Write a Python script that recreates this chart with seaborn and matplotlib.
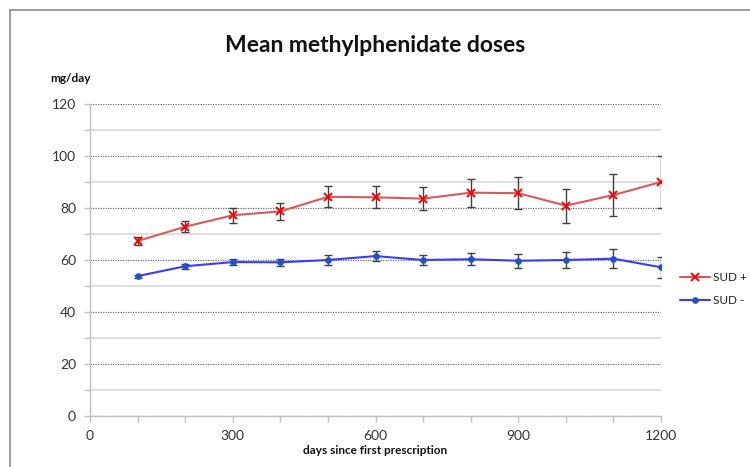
import matplotlib
matplotlib.use("Agg")
import matplotlib.pyplot as plt
import matplotlib.patches as mpatches
from matplotlib.ticker import MultipleLocator
import seaborn as sns
import pandas as pd

days = [100, 200, 300, 400, 500, 600, 700, 800, 900, 1000, 1100, 1200]
sud_pos = [67.3, 72.8, 77.2, 78.7, 84.3, 84.1, 83.6, 85.9, 85.7, 80.9, 85.0, 90.0]
sud_pos_err = [1.6, 2.2, 2.8, 3.2, 4.0, 4.2, 4.5, 5.4, 6.2, 6.5, 8.0, 10.0]
sud_neg = [53.8, 57.6, 59.2, 59.1, 60.0, 61.5, 60.0, 60.3, 59.7, 60.0, 60.5, 57.2]
sud_neg_err = [0.6, 1.0, 1.2, 1.4, 1.8, 2.0, 1.8, 2.2, 2.6, 3.2, 3.7, 4.1]
series_names = ["SUD +", "SUD -"]

sns.set_theme(style="white")
plt.rcParams["font.family"] = ["Lato", "DejaVu Sans"]

fig = plt.figure(figsize=(7.5, 4.67), dpi=100)
fig.patches.append(mpatches.Rectangle((10 / 750, -0.1), 1.1, 1 - 10 / 467 + 0.1,
                                      transform=fig.transFigure, fill=False,
                                      edgecolor="#8c8c8c", linewidth=1.2))
ax = fig.add_axes([90 / 750, (467 - 416) / 467, 571 / 750, 312 / 467])

df_pos = pd.DataFrame({"days": days, "dose": sud_pos})
df_neg = pd.DataFrame({"days": days, "dose": sud_neg})

ax.errorbar(days, sud_pos, yerr=sud_pos_err, fmt="none", ecolor="#404040",
            elinewidth=1.0, capsize=3, capthick=1.0, zorder=2)
ax.errorbar(days, sud_neg, yerr=sud_neg_err, fmt="none", ecolor="#404040",
            elinewidth=1.0, capsize=3, capthick=1.0, zorder=2)

sns.lineplot(data=df_pos, x="days", y="dose", ax=ax, color="#d9595a", linewidth=1.5,
             marker="x", markersize=5.5, markeredgecolor="#ff0000", markeredgewidth=1.4,
             label=series_names[0], zorder=3)
sns.lineplot(data=df_neg, x="days", y="dose", ax=ax, color="#3a3aff", linewidth=1.5,
             marker="o", markersize=4, markerfacecolor="#1f50d0", markeredgecolor="#1f50d0",
             label=series_names[1], zorder=3)

ax.set_xlim(0, 1200)
ax.set_ylim(0, 120)
ax.xaxis.set_major_locator(MultipleLocator(300))
ax.xaxis.set_minor_locator(MultipleLocator(100))
ax.yaxis.set_major_locator(MultipleLocator(20))
ax.yaxis.set_minor_locator(MultipleLocator(10))

ax.grid(which="major", axis="y", color="#707070", linestyle=(0, (1, 1)), linewidth=0.9)
ax.grid(which="minor", axis="y", color="#d9d9d9", linestyle="-", linewidth=1.2)
ax.set_axisbelow(True)

for s in ["top", "right"]:
    ax.spines[s].set_visible(False)
for s in ["left", "bottom"]:
    ax.spines[s].set_color("#bfbfbf")
    ax.spines[s].set_linewidth(1.0)

ax.tick_params(which="both", direction="out", length=4, color="#bfbfbf", width=1.0,
               bottom=True, left=True)
ax.tick_params(which="major", labelsize=10, labelcolor="#333333", pad=6)

ax.set_xlabel("")
ax.set_ylabel("")

fig.text(0.5, 1 - 45 / 467, "Mean methylphenidate doses", ha="center", va="center",
         fontsize=16.5, fontweight="bold", color="#111111")
fig.text(50 / 750, 1 - 78 / 467, "mg/day", ha="left", va="center",
         fontsize=8.5, fontweight="bold", color="#111111")
fig.text(375 / 750, 1 - 451 / 467, "days since first prescription", ha="center", va="center",
         fontsize=8.5, fontweight="bold", color="#111111")

leg = ax.legend(loc="center left", bbox_to_anchor=(680 / 750, 1 - 289 / 467),
                bbox_transform=fig.transFigure, frameon=False, fontsize=8.5,
                handlelength=2.5, labelspacing=1.0, handletextpad=0.3,
                borderpad=0, borderaxespad=0)
for t in leg.get_texts():
    t.set_color("#222222")

fig.savefig("out.png", dpi=100)
